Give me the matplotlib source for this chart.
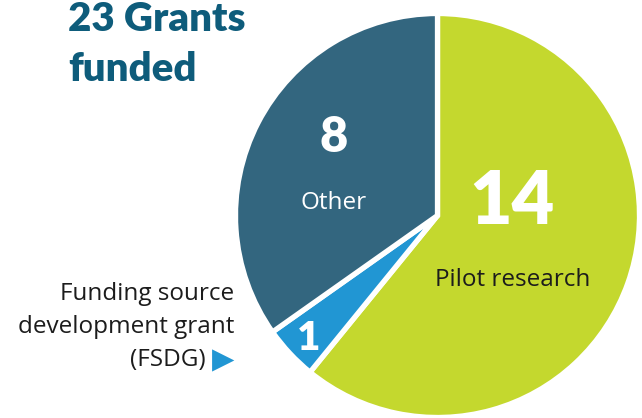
import matplotlib
matplotlib.use("Agg")
import matplotlib.pyplot as plt

categories = ["Pilot research", "Funding source\ndevelopment grant\n(FSDG)", "Other"]
values = [14, 1, 8]
colors = ["#C4D82E", "#2196D3", "#33667F"]
title = "23 Grants\nfunded"

W, H = 642, 418
fig = plt.figure(figsize=(W / 100, H / 100), dpi=100)
ax = fig.add_axes([0, 0, 1, 1])

cx, cy, r = 437.5, H - 215.5, 202
ax.pie(values, colors=colors, startangle=90, counterclock=False,
       center=(cx, cy), radius=r, frame=True,
       wedgeprops=dict(edgecolor="white", linewidth=3.8))
ax.set_xlim(0, W)
ax.set_ylim(0, H)
ax.set_aspect("equal")
ax.axis("off")

font = "Lato"
lab = "Open Sans"
lw = "medium"
fs = 17.5
tc = "#1c1c1c"
tlines = title.split("\n")
# Title
ax.text(68, H - 31, tlines[0], fontsize=29, fontweight="heavy", color="#0E5C7B",
        family=font, ha="left", va="baseline")
ax.text(68, H - 81, tlines[1], fontsize=29, fontweight="heavy", color="#0E5C7B",
        family=font, ha="left", va="baseline")

# Pilot research
ax.text(512, H - 203, str(values[0]), fontsize=53, fontweight="heavy", color="white",
        family=font, ha="center", va="center")
ax.text(513, H - 286, categories[0], fontsize=fs, fontweight=lw, color=tc,
        family=lab, ha="center", va="baseline")

# Other
ax.text(334, H - 138, str(values[2]), fontsize=35, fontweight="heavy", color="white",
        family=font, ha="center", va="center")
ax.text(334, H - 209, categories[2], fontsize=fs, fontweight=lw, color="white",
        family=lab, ha="center", va="baseline")

# FSDG
ax.text(309, H - 338, str(values[1]), fontsize=29, fontweight="heavy", color="white",
        family=font, ha="center", va="center")
lines = categories[1].split("\n")
ax.text(234, H - 300, lines[0], fontsize=fs, fontweight=lw, color=tc, family=lab,
        ha="right", va="baseline")
ax.text(234, H - 333, lines[1], fontsize=fs, fontweight=lw, color=tc, family=lab,
        ha="right", va="baseline")
ax.text(206, H - 366, lines[2], fontsize=fs, fontweight=lw, color=tc, family=lab,
        ha="right", va="baseline")
ax.text(223, H - 360, "\u25B6", fontsize=21, color=colors[1], family="DejaVu Sans",
        ha="center", va="center")

fig.savefig("out.png", dpi=100)
